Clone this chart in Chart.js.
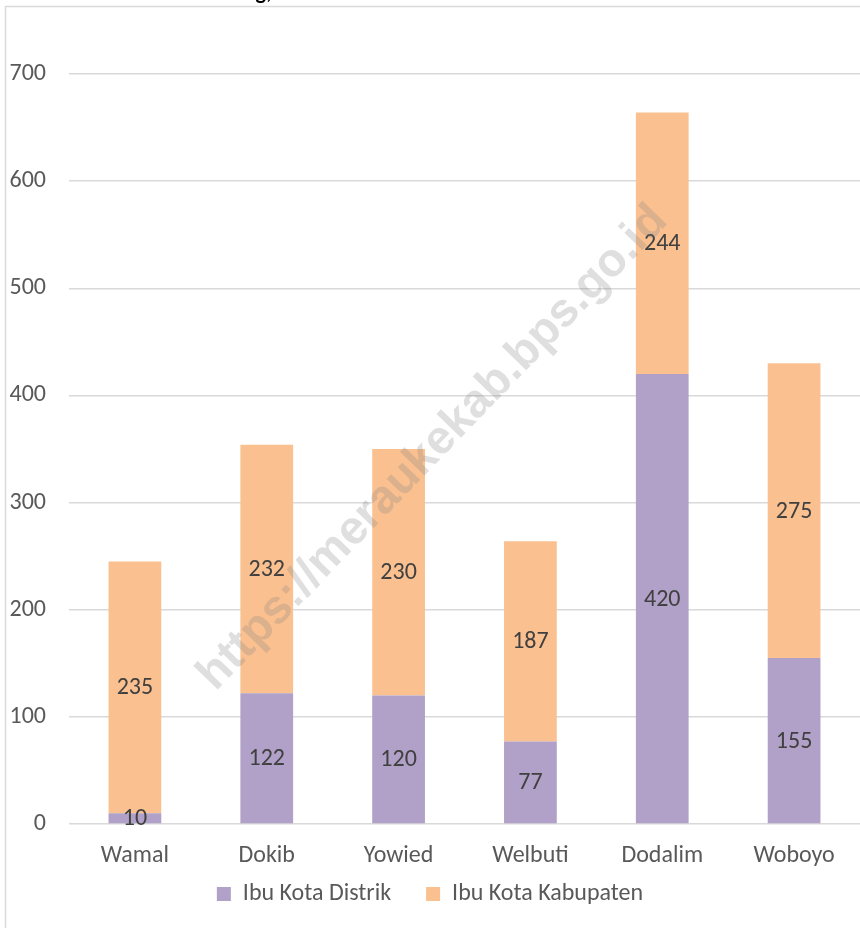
<!DOCTYPE html>
<html>
<head>
<meta charset="utf-8">
<script src="https://cdn.jsdelivr.net/npm/chart.js@4.4.0/dist/chart.umd.min.js"></script>
<style>
  html, body { margin: 0; padding: 0; background: #fff; overflow: hidden; }
  #wrap { position: absolute; left: 0; top: 0; width: 860px; height: 928px; }
</style>
</head>
<body>
<div id="wrap"><canvas id="chart" width="860" height="928"></canvas></div>
<script>
// data
const categories = ['Wamal', 'Dokib', 'Yowied', 'Welbuti', 'Dodalim', 'Woboyo'];
const distrikValues = [10, 122, 120, 77, 420, 155];
const kabupatenValues = [235, 232, 230, 187, 244, 275];
const seriesNames = ['Ibu Kota Distrik', 'Ibu Kota Kabupaten'];

const FONT = 'Carlito, Calibri, Lato, sans-serif';
const purple = '#b1a0c7';
const orange = '#fac090';

// frame, cut-off title fragment, category + value labels, watermark
const decorPlugin = {
    id: 'decor',
    beforeDraw(chart) {
        const ctx = chart.ctx;
        ctx.save();
        ctx.strokeStyle = '#d9d9d9';
        ctx.lineWidth = 1.5;
        ctx.strokeRect(5.5, 6.5, 1000, 1000);
        ctx.fillStyle = '#000';
        ctx.font = 'bold 22px ' + FONT;
        ctx.textAlign = 'right';
        ctx.textBaseline = 'alphabetic';
        ctx.fillText('g,', 272, -1);
        ctx.restore();
    },
    afterDatasetsDraw(chart) {
        const ctx = chart.ctx;
        ctx.save();
        ctx.font = '24px ' + FONT;
        ctx.fillStyle = '#404040';
        ctx.textAlign = 'center';
        ctx.textBaseline = 'middle';
        chart.data.datasets.forEach((ds, di) => {
            const meta = chart.getDatasetMeta(di);
            meta.data.forEach((bar, i) => {
                const p = bar.getCenterPoint();
                ctx.fillText(String(ds.data[i]), p.x, p.y + 1);
            });
        });
        // category labels under the axis (tick labels of the x scale would be clipped)
        const xs = chart.scales.x;
        ctx.fillStyle = '#595959';
        categories.forEach((c, i) => {
            ctx.fillText(c, xs.getPixelForTick(i), chart.chartArea.bottom + 32);
        });
        ctx.restore();
    },
    afterDraw(chart) {
        const ctx = chart.ctx;
        ctx.save();
        ctx.translate(433, 448);
        ctx.rotate(-46 * Math.PI / 180);
        ctx.font = 'bold 47px "Liberation Sans", Arial, sans-serif';
        ctx.fillStyle = 'rgba(128,128,128,0.25)';
        ctx.textAlign = 'center';
        ctx.textBaseline = 'middle';
        ctx.fillText('https://meraukekab.bps.go.id', 0, 0);
        ctx.restore();
    }
};

new Chart(document.getElementById('chart'), {
    type: 'bar',
    data: {
        labels: categories,
        datasets: [{
            label: seriesNames[0],
            data: distrikValues,
            backgroundColor: purple,
            barPercentage: 0.4,
            categoryPercentage: 1
        }, {
            label: seriesNames[1],
            data: kabupatenValues,
            backgroundColor: orange,
            barPercentage: 0.4,
            categoryPercentage: 1
        }]
    },
    options: {
        responsive: false,
        animation: false,
        devicePixelRatio: 1,
        layout: {
            padding: { top: 74, left: 0, right: 0, bottom: 21 }
        },
        scales: {
            x: {
                stacked: true,
                grid: { display: false },
                border: { display: false },
                ticks: { display: false },
                afterFit(scale) { scale.height = 23; }
            },
            y: {
                stacked: true,
                min: 0,
                max: 700,
                grid: {
                    color: '#d9d9d9',
                    lineWidth: 1.5,
                    drawTicks: false
                },
                border: { display: false },
                ticks: {
                    stepSize: 100,
                    color: '#595959',
                    font: { family: FONT, size: 24 },
                    padding: 23
                },
                afterFit(scale) { scale.width = 69; }
            }
        },
        plugins: {
            legend: {
                position: 'bottom',
                maxHeight: 60,
                labels: {
                    boxWidth: 14,
                    boxHeight: 14,
                    padding: 35,
                    color: '#595959',
                    font: { family: FONT, size: 24 }
                }
            },
            tooltip: { enabled: false }
        }
    },
    plugins: [decorPlugin]
});
</script>
</body>
</html>
